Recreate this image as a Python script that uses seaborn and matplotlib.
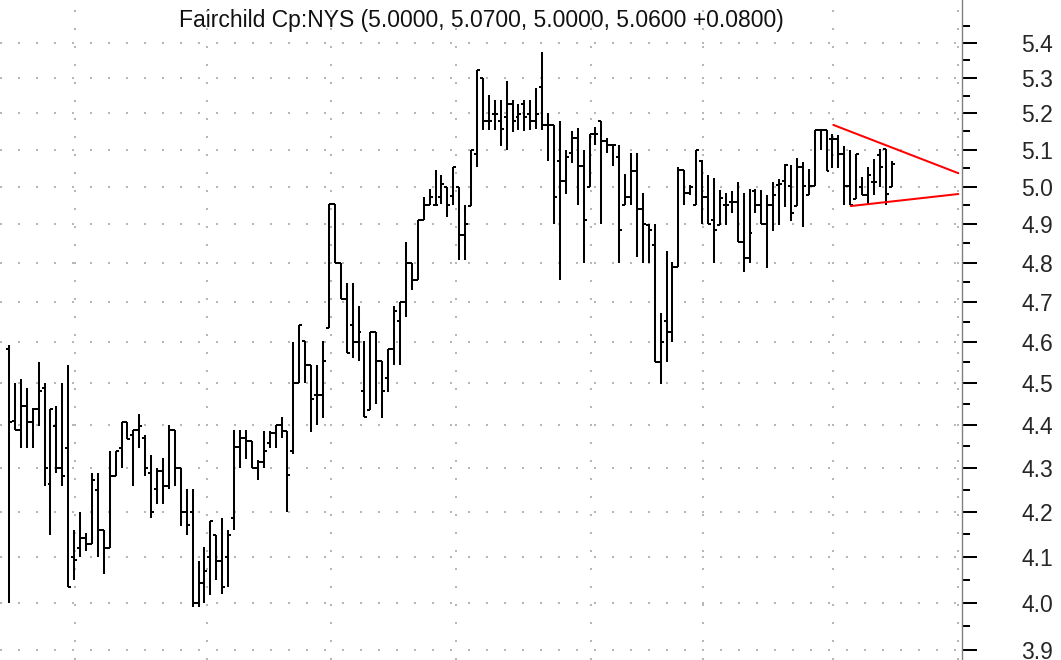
import numpy as np
import pandas as pd
import seaborn as sns
import matplotlib.pyplot as plt
from matplotlib.ticker import FixedLocator, FuncFormatter, NullFormatter

# ─── Daily OHLC (oldest → newest) ────────────────────────────────────
opens = [
    4.582, 4.410, 4.387, 4.445, 4.408, 4.437, 4.489, 4.262, 4.398, 4.300,
    4.345, 4.100, 4.120, 4.142, 4.129, 4.250, 4.158, 4.120, 4.281, 4.345,
    4.408, 4.376, 4.387, 4.370, 4.288, 4.251, 4.292, 4.259, 4.389, 4.300,
    4.200, 4.200, 4.000, 4.042, 4.100, 4.149, 4.091, 4.100, 4.187, 4.348,
    4.370, 4.362, 4.300, 4.314, 4.358, 4.381, 4.400, 4.386, 4.340, 4.500,
    4.602, 4.544, 4.472, 4.472, 4.635, 4.953, 4.800, 4.708, 4.643, 4.600,
    4.482, 4.436, 4.624, 4.553, 4.511, 4.582, 4.651, 4.700, 4.800, 4.755,
    4.911, 4.950, 4.950, 4.972, 5.000, 4.976, 5.000, 4.873, 4.947, 5.089,
    5.300, 5.180, 5.198, 5.180, 5.189, 5.227, 5.189, 5.227, 5.198, 5.180,
    5.273, 5.168, 5.168, 5.068, 5.014, 5.091, 5.132, 5.055, 5.000, 5.143,
    5.179, 5.123, 5.114, 5.079, 4.950, 4.971, 5.043, 4.941, 4.898, 4.845,
    4.552, 4.651, 4.625, 4.790, 5.045, 4.982, 4.950, 5.070, 4.973, 4.912,
    4.898, 4.951, 4.960, 4.960, 4.854, 4.811, 4.987, 4.950, 4.900, 4.950,
    5.003, 5.016, 5.001, 4.948, 5.053, 4.978, 5.001, 5.155, 5.155, 5.130,
    5.130, 5.089, 5.001, 4.968, 4.998, 4.977, 5.012, 5.085, 5.103, 5.000,
]
highs = [
    4.592, 4.500, 4.510, 4.489, 4.440, 4.552, 4.500, 4.437, 4.445, 4.500,
    4.544, 4.158, 4.200, 4.153, 4.288, 4.288, 4.160, 4.338, 4.338, 4.408,
    4.408, 4.387, 4.427, 4.376, 4.329, 4.300, 4.323, 4.400, 4.389, 4.300,
    4.251, 4.251, 4.091, 4.121, 4.180, 4.149, 4.187, 4.158, 4.389, 4.389,
    4.389, 4.362, 4.317, 4.386, 4.385, 4.400, 4.420, 4.386, 4.600, 4.643,
    4.602, 4.544, 4.544, 4.602, 4.953, 4.953, 4.800, 4.747, 4.747, 4.689,
    4.602, 4.624, 4.624, 4.553, 4.582, 4.689, 4.700, 4.853, 4.800, 4.912,
    4.972, 4.994, 5.044, 5.030, 5.000, 5.053, 5.000, 4.950, 5.100, 5.322,
    5.300, 5.251, 5.237, 5.237, 5.290, 5.237, 5.227, 5.237, 5.237, 5.271,
    5.374, 5.200, 5.168, 5.179, 5.100, 5.152, 5.159, 5.100, 5.143, 5.161,
    5.179, 5.132, 5.114, 5.114, 5.034, 5.091, 5.091, 4.982, 4.900, 4.900,
    4.671, 4.831, 4.802, 5.052, 5.045, 5.005, 5.100, 5.073, 5.032, 5.023,
    4.991, 4.982, 4.987, 5.012, 4.982, 4.994, 4.994, 4.990, 4.978, 5.012,
    5.021, 5.062, 5.057, 5.077, 5.066, 5.048, 5.155, 5.155, 5.155, 5.144,
    5.139, 5.110, 5.098, 5.089, 5.025, 5.053, 5.075, 5.103, 5.103, 5.070,
]
lows = [
    4.000, 4.387, 4.345, 4.345, 4.345, 4.398, 4.258, 4.149, 4.288, 4.258,
    4.034, 4.049, 4.100, 4.113, 4.129, 4.099, 4.063, 4.120, 4.281, 4.300,
    4.368, 4.258, 4.345, 4.281, 4.186, 4.217, 4.217, 4.251, 4.259, 4.169,
    4.147, 3.991, 3.991, 4.000, 4.016, 4.048, 4.019, 4.034, 4.158, 4.300,
    4.321, 4.300, 4.273, 4.300, 4.347, 4.347, 4.370, 4.200, 4.332, 4.500,
    4.500, 4.384, 4.400, 4.416, 4.635, 4.800, 4.708, 4.573, 4.561, 4.553,
    4.418, 4.436, 4.449, 4.416, 4.478, 4.544, 4.544, 4.663, 4.729, 4.755,
    4.911, 4.950, 4.950, 4.954, 4.919, 4.950, 4.807, 4.807, 4.947, 5.053,
    5.153, 5.153, 5.153, 5.109, 5.098, 5.148, 5.153, 5.151, 5.153, 5.157,
    5.155, 5.068, 4.900, 4.756, 4.980, 5.064, 4.952, 4.800, 5.000, 5.114,
    4.900, 5.091, 5.055, 4.800, 4.950, 4.950, 4.814, 4.800, 4.800, 4.552,
    4.498, 4.552, 4.600, 4.790, 4.950, 4.978, 4.950, 4.900, 4.900, 4.800,
    4.898, 4.898, 4.929, 4.854, 4.775, 4.800, 4.929, 4.900, 4.787, 4.882,
    4.898, 4.946, 4.909, 4.948, 4.894, 4.978, 5.001, 5.098, 5.041, 5.050,
    5.050, 4.950, 4.950, 4.968, 4.977, 4.950, 4.977, 4.998, 4.950, 5.000,
]
closes = [
    4.408, 4.387, 4.445, 4.408, 4.437, 4.481, 4.300, 4.437, 4.300, 4.281,
    4.034, 4.093, 4.142, 4.129, 4.271, 4.158, 4.120, 4.281, 4.338, 4.408,
    4.368, 4.387, 4.398, 4.300, 4.200, 4.292, 4.259, 4.389, 4.300, 4.200,
    4.171, 4.000, 4.042, 4.069, 4.180, 4.091, 4.034, 4.149, 4.348, 4.370,
    4.362, 4.300, 4.314, 4.340, 4.381, 4.400, 4.386, 4.283, 4.500, 4.643,
    4.544, 4.461, 4.472, 4.553, 4.953, 4.800, 4.708, 4.573, 4.600, 4.624,
    4.418, 4.624, 4.553, 4.482, 4.582, 4.676, 4.700, 4.800, 4.755, 4.912,
    4.950, 4.972, 4.950, 5.007, 4.950, 5.053, 4.873, 4.900, 5.100, 5.322,
    5.180, 5.180, 5.198, 5.157, 5.227, 5.180, 5.198, 5.189, 5.180, 5.198,
    5.168, 5.168, 4.971, 5.014, 5.079, 5.132, 5.055, 4.910, 5.143, 5.143,
    5.123, 5.114, 5.114, 4.886, 4.971, 5.043, 4.941, 4.900, 4.885, 4.552,
    4.600, 4.625, 4.790, 5.045, 4.982, 5.000, 5.100, 4.973, 4.900, 4.885,
    4.969, 4.951, 4.960, 4.854, 4.811, 4.876, 4.950, 4.900, 4.950, 4.978,
    5.007, 5.057, 4.929, 5.053, 5.001, 5.001, 5.155, 5.155, 5.041, 5.130,
    5.089, 5.001, 4.950, 5.089, 4.977, 5.030, 5.012, 5.053, 4.981, 5.060,
]

# month boundaries (bar positions) for the vertical grid
month_starts = [11.14, 33.37, 54.27, 75.4, 98.24, 117.1, 139.15, 160.24]

# hand-drawn triangle (bar position, price)
upper_x = [139.15, 160.24]
upper_y = [5.168, 5.036]
lower_x = [142.1, 160.24]
lower_y = [4.948, 4.980]

price_ticks = [3.9, 4.0, 4.1, 4.2, 4.3, 4.4, 4.5, 4.6, 4.7, 4.8,
               4.9, 5.0, 5.1, 5.2, 5.3, 5.4]
half_ticks = [3.95, 4.05, 4.15, 4.25, 4.35, 4.45, 4.55, 4.65, 4.75,
              4.85, 4.95, 5.05, 5.15, 5.25, 5.35, 5.45]

title = "Fairchild Cp:NYS (5.0000, 5.0700, 5.0000, 5.0600 +0.0800)"

df = pd.DataFrame({"open": opens, "high": highs, "low": lows, "close": closes})
df["pos"] = np.arange(len(df))

# ─── Plot ─────────────────────────────────────────────────────────────
sns.set_style("white")
plt.rcParams["font.family"] = ["Liberation Sans", "DejaVu Sans"]

fig = plt.figure(figsize=(10.61, 6.60), dpi=100)
ax = fig.add_axes([0.0, 0.0, 962 / 1061, 1.0])
ax.set_yscale("log")

grid_kw = dict(color="#a9a9a9", lw=1.2, linestyle=(0, (1.2, 9.6)), zorder=0)
for p in price_ticks:
    ax.axhline(p, **grid_kw)
for m in month_starts:
    ax.axvline(m, **grid_kw)

bar_kw = dict(color="black", lw=1.45, zorder=3)
ax.vlines(df["pos"], df["low"], df["high"], **bar_kw)
ax.hlines(df["open"], df["pos"] - 0.5, df["pos"], **bar_kw)
ax.hlines(df["close"], df["pos"], df["pos"] + 0.5, **bar_kw)

sns.lineplot(x=upper_x, y=upper_y, color="red", lw=1.45, ax=ax, zorder=4)
sns.lineplot(x=lower_x, y=lower_y, color="red", lw=1.45, ax=ax, zorder=4)

ax.set_xlim(-1.52, 160.87)
ax.set_ylim(3.879, 5.526)

ax.yaxis.tick_right()
ax.yaxis.set_major_locator(FixedLocator(price_ticks))
ax.yaxis.set_major_formatter(FuncFormatter(lambda v, _: f"{v:.1f}"))
ax.yaxis.set_minor_locator(FixedLocator(half_ticks))
ax.yaxis.set_minor_formatter(NullFormatter())
ax.tick_params(axis="y", which="major", direction="out", length=10.8,
               width=1.45, color="black", pad=32, labelsize=16.5)
ax.tick_params(axis="y", which="minor", direction="out", length=5.5,
               width=1.45, color="black")
ax.set_xticks([])
ax.set_xlabel("")
ax.set_ylabel("")

for side in ["top", "bottom", "left"]:
    ax.spines[side].set_visible(False)
ax.spines["right"].set_color("#808080")
ax.spines["right"].set_linewidth(1.0)

ax.text(0.5, 1 - 27.3 / 660, title, transform=ax.transAxes,
        ha="center", va="baseline", fontsize=16.5, color="#111111")

fig.savefig("out.png", dpi=100)
plt.close(fig)
